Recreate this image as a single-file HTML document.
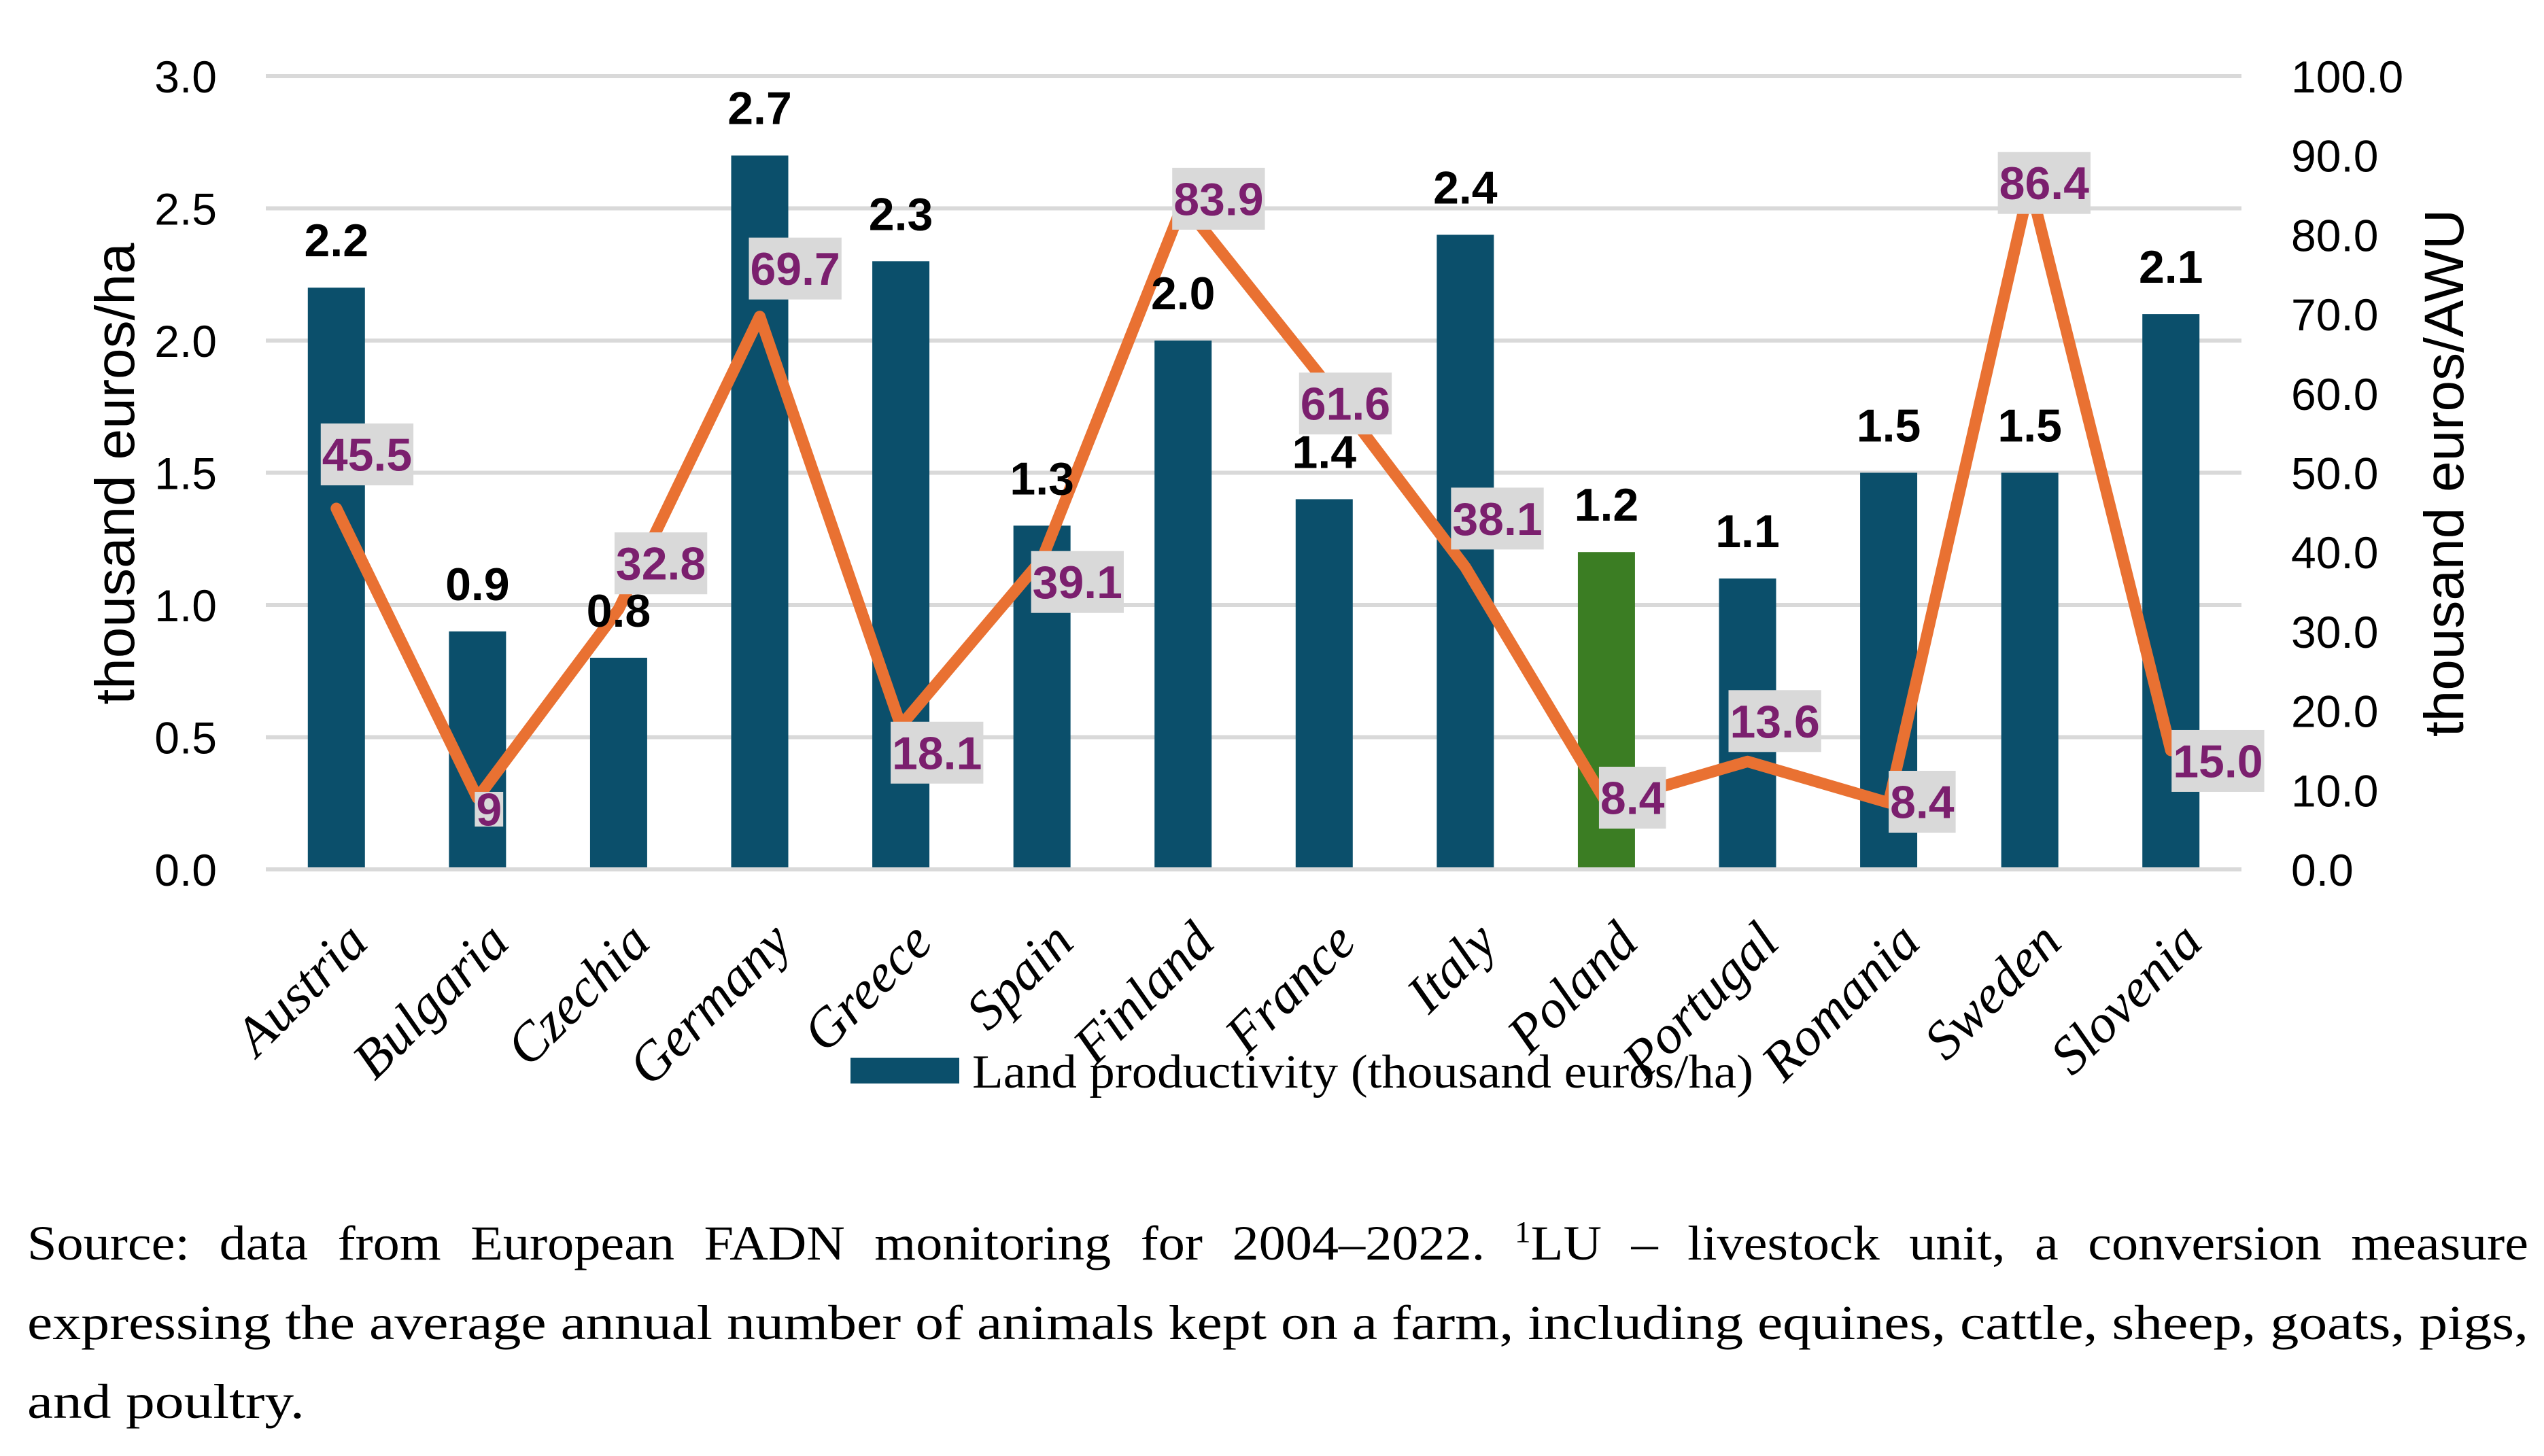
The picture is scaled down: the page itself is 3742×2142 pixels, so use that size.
<!DOCTYPE html>
<html><head><meta charset="utf-8"><style>
html,body{margin:0;padding:0;background:#fff;}
svg{display:block;}
</style></head><body>
<svg id="chart" width="3742" height="2142" viewBox="0 0 3742 2142" xmlns="http://www.w3.org/2000/svg">
<rect x="0" y="0" width="3742" height="2142" fill="#fff"/>
<g id="grid"></g><g id="bars"></g><g id="line"></g><g id="labels"></g><g id="axes"></g>
<g>
<rect x="1251" y="1556" width="160" height="38" fill="#0B4F6B"/>
<text x="1430" y="1600" font-family="Liberation Serif, serif" font-size="70" textLength="1149" lengthAdjust="spacingAndGlyphs">Land productivity (thousand euros/ha)</text>
</g>
<g font-family="Liberation Serif, serif" font-size="72" fill="#000">
<text x="40" y="1853" word-spacing="22" textLength="3679" lengthAdjust="spacingAndGlyphs">Source: data from European FADN monitoring for 2004–2022. <tspan font-size="44" dy="-26">1</tspan><tspan dy="26">LU – livestock unit, a conversion measure</tspan></text>
<text x="40" y="1970" textLength="3679" lengthAdjust="spacingAndGlyphs">expressing the average annual number of animals kept on a farm, including equines, cattle, sheep, goats, pigs,</text>
<text x="40" y="2086" textLength="408" lengthAdjust="spacingAndGlyphs">and poultry.</text>
</g>
</svg>
<script>
const categories = ["Austria","Bulgaria","Czechia","Germany","Greece","Spain","Finland","France","Italy","Poland","Portugal","Romania","Sweden","Slovenia"];
const landValues = [2.2,0.9,0.8,2.7,2.3,1.3,2.0,1.4,2.4,1.2,1.1,1.5,1.5,2.1];
const laborValues = [45.5,9,32.8,69.7,18.1,39.1,83.9,61.6,38.1,8.4,13.6,8.4,86.4,15.0];
const landLabels = ["2.2","0.9","0.8","2.7","2.3","1.3","2.0","1.4","2.4","1.2","1.1","1.5","1.5","2.1"];
const laborLabels = ["45.5","9","32.8","69.7","18.1","39.1","83.9","61.6","38.1","8.4","13.6","8.4","86.4","15.0"];
const leftTicks = [0,0.5,1,1.5,2,2.5,3];
const leftTickLabels = ["0.0","0.5","1.0","1.5","2.0","2.5","3.0"];
const rightTicks = [0,10,20,30,40,50,60,70,80,90,100];
const rightTickLabels = ["0.0","10.0","20.0","30.0","40.0","50.0","60.0","70.0","80.0","90.0","100.0"];
const highlight = "Poland";

const NS="http://www.w3.org/2000/svg";
const X0=391, X1=3297, Y0=1279, Y1=112;
const band=(X1-X0)/categories.length;
const xC=i=>X0+band*(i+0.5);
const yL=v=>Y0-(v/3)*(Y0-Y1);
const yR=v=>Y0-(v/100)*(Y0-Y1);
function mk(tag,attrs,parent,txt){const e=document.createElementNS(NS,tag);for(const k in attrs)e.setAttribute(k,attrs[k]);if(txt!==undefined)e.textContent=txt;parent.appendChild(e);return e;}
const G=id=>document.getElementById(id);
const SANS="Liberation Sans, sans-serif";

leftTicks.forEach((t,i)=>{
  const y=yL(t);
  const g=mk('line',{x1:X0,x2:X1,y1:y,y2:y,stroke:'#D9D9D9','stroke-width':6},G('grid'));
  
  
  const l=mk('text',{x:319,y:y+24,'text-anchor':'end','font-family':SANS,'font-size':66},G('axes'),leftTickLabels[i]);
  
  
});
rightTicks.forEach((t,i)=>{
  const y=yR(t);
  const l=mk('text',{x:3370,y:y+24,'font-family':SANS,'font-size':66},G('axes'),rightTickLabels[i]);
  
  
});
const lt=mk('text',{x:0,y:0,transform:'translate(197,697) rotate(-90)','text-anchor':'middle','font-family':SANS,'font-size':82},G('axes'),'thousand euros/ha');


const rt=mk('text',{x:0,y:0,transform:'translate(3623,696) rotate(-90)','text-anchor':'middle','font-family':SANS,'font-size':82},G('axes'),'thousand euros/AWU');



const BW=84;
categories.forEach((c,i)=>{
  const y=yL(landValues[i]);
  const b=mk('rect',{x:xC(i)-BW/2,y:y,width:BW,height:Y0-3-y,fill:c===highlight?'#3B7D23':'#0B4F6B'},G('bars'));
  
  
  const t=mk('text',{x:xC(i),y:y-46,'text-anchor':'middle','font-family':SANS,'font-weight':'bold','font-size':68},G('labels'),landLabels[i]);
  
  
  const xl=mk('text',{x:0,y:0,transform:`translate(${xC(i)+50},${1390}) rotate(-45)`,'text-anchor':'end','font-family':'Liberation Serif, serif','font-style':'italic','font-size':80},G('axes'),c);
  
  
});

const pts=laborValues.map((v,i)=>xC(i)+','+yR(v)).join(' ');
const pl=mk('polyline',{points:pts,fill:'none',stroke:'#E97132','stroke-width':17,'stroke-linejoin':'round','stroke-linecap':'round'},G('line'));



const boxOff=[[-23,-125,91],[-4,-9,51],[-6,-113,91],[-16,-116,91],[-15,-6,91],[-16,-12,91],[-16,-53,91],[-37,-12,91],[-21,-117,91],[-11,-53,91],[-28,-105,91],[0,-47,91],[-47,-47,91],[1,-30,91]];
laborValues.forEach((v,i)=>{
  const px=xC(i), py=yR(v);
  const s=laborLabels[i];
  let w=0; for(const ch of s) w+= ch==='.'?0.278:0.556; w=w*68+4;
  const [dx,dy,h]=boxOff[i];
  const bx=px+dx, by=py+dy;
  const r=mk('rect',{x:bx,y:by,width:w,height:h,fill:'#D9D9D9'},G('labels'));
  
  
  const t=mk('text',{x:bx+w/2,y:by+h/2+24,'text-anchor':'middle','font-family':SANS,'font-weight':'bold','font-size':68,fill:'#7B1F6E'},G('labels'),s);
  
  
});
</script>
</body></html>
